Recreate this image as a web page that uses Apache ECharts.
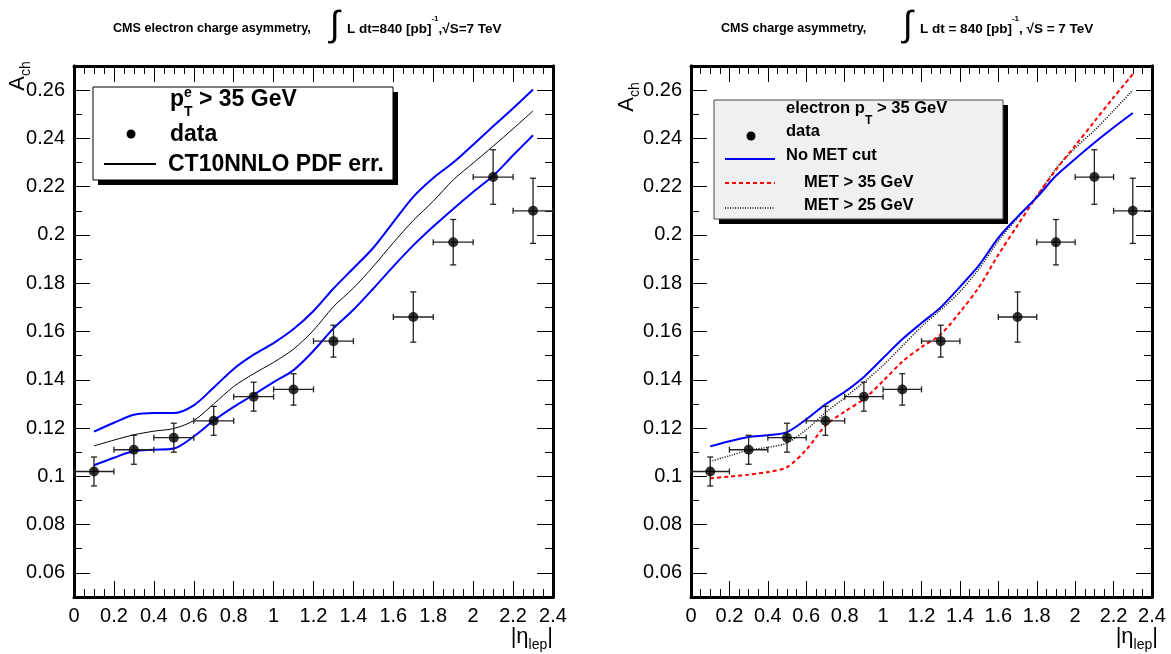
<!DOCTYPE html>
<html>
<head>
<meta charset="utf-8">
<script src="https://cdn.jsdelivr.net/npm/echarts@6/dist/echarts.min.js"></script>
<style>
  html, body { margin: 0; padding: 0; background: #fff; }
  #chart { width: 1171px; height: 654px; }
</style>
</head>
<body>
<div id="chart"></div>
<script>
// ---------------- data ----------------
const dataEta = [0.1, 0.3, 0.5, 0.7, 0.9, 1.1, 1.3, 1.7, 1.9, 2.1, 2.3];
const dataAsym = [0.102, 0.111, 0.116, 0.123, 0.133, 0.136, 0.156, 0.166, 0.197, 0.224, 0.210];
const dataAsymErr = [0.006, 0.006, 0.006, 0.006, 0.006, 0.0065, 0.0066, 0.0104, 0.0094, 0.0113, 0.0135];
const dataEtaErr = [0.1, 0.1, 0.1, 0.1, 0.1, 0.1, 0.1, 0.1, 0.1, 0.1, 0.1];

const etaCurve = [0.1, 0.2, 0.3, 0.4, 0.5, 0.6, 0.7, 0.8, 0.9, 1.0, 1.1, 1.2, 1.3, 1.4, 1.5, 1.6, 1.7, 1.8, 1.9, 2.0, 2.1, 2.2, 2.3];
// left panel: CT10NNLO central and PDF error band edges
const ct10Upper   = [0.1185, 0.1222, 0.1255, 0.1262, 0.1262, 0.1294, 0.1368, 0.1445, 0.1504, 0.1552, 0.1610, 0.1685, 0.1778, 0.1862, 0.1947, 0.2053, 0.2158, 0.2236, 0.2300, 0.2374, 0.2450, 0.2525, 0.2603];
const ct10Central = [0.1126, 0.1150, 0.1172, 0.1187, 0.1198, 0.1231, 0.1300, 0.1372, 0.1425, 0.1472, 0.1527, 0.1605, 0.1703, 0.1780, 0.1870, 0.1968, 0.2060, 0.2140, 0.2228, 0.2298, 0.2368, 0.2440, 0.2514];
const ct10Lower   = [0.1046, 0.1077, 0.1105, 0.1110, 0.1115, 0.1165, 0.1231, 0.1288, 0.1338, 0.1390, 0.1440, 0.1520, 0.1613, 0.1690, 0.1778, 0.1870, 0.1957, 0.2035, 0.2108, 0.2178, 0.2245, 0.2330, 0.2413];
// right panel: MET cut variations
const noMetCut = [0.1124, 0.1145, 0.1163, 0.1170, 0.1183, 0.1236, 0.1298, 0.1350, 0.1412, 0.1490, 0.1568, 0.1635, 0.1700, 0.1785, 0.1875, 0.1988, 0.2075, 0.2155, 0.2245, 0.2315, 0.2382, 0.2445, 0.2505];
const met35    = [0.0992, 0.0999, 0.1007, 0.1018, 0.1038, 0.1110, 0.1210, 0.1268, 0.1320, 0.1395, 0.1475, 0.1535, 0.1588, 0.1680, 0.1785, 0.1918, 0.2040, 0.2160, 0.2270, 0.2370, 0.2470, 0.2570, 0.2666];
const met25    = [0.1062, 0.1085, 0.1108, 0.1120, 0.1138, 0.1193, 0.1264, 0.1326, 0.1390, 0.1460, 0.1540, 0.1620, 0.1690, 0.1765, 0.1860, 0.1975, 0.2070, 0.2160, 0.2275, 0.2360, 0.2433, 0.2515, 0.2600];

const yMajorTicks = [0.06, 0.08, 0.10, 0.12, 0.14, 0.16, 0.18, 0.20, 0.22, 0.24, 0.26];
const yMinorTicks = [0.05, 0.07, 0.09, 0.11, 0.13, 0.15, 0.17, 0.19, 0.21, 0.23, 0.25, 0.27];
const xTickLabels = ['0', '0.2', '0.4', '0.6', '0.8', '1', '1.2', '1.4', '1.6', '1.8', '2', '2.2', '2.4'];

// ---------------- helpers ----------------
const FONT = '"Liberation Sans", Arial, Helvetica, sans-serif';
const pairs = (xs, ys) => xs.map((x, i) => [x, ys[i]]);
const errPoints = dataEta.map((x, i) => [x, dataAsym[i], dataEtaErr[i], dataAsymErr[i]]);

function xAxes(grid) {
  const base = {
    type: 'value', gridIndex: grid, min: 0, max: 2.4, interval: 0.2,
    axisLine: { show: true, onZero: false, lineStyle: { color: '#000', width: 3 } },
    axisTick: { show: true, inside: true, length: 16, lineStyle: { color: '#000', width: 1 } },
    minorTick: { show: true, splitNumber: 4, length: 8, lineStyle: { color: '#000', width: 1 } },
    splitLine: { show: false }, minorSplitLine: { show: false }
  };
  return [
    Object.assign({}, base, {
      position: 'bottom',
      axisLabel: {
        show: true, margin: 9, fontSize: 20, color: '#000', fontFamily: FONT,
        showMinLabel: true, showMaxLabel: true, hideOverlap: false,
        formatter: v => xTickLabels[Math.round(v / 0.2)]
      }
    }),
    Object.assign({}, base, { position: 'top', axisLabel: { show: false } })
  ];
}

function yAxes(grid) {
  const base = {
    type: 'value', gridIndex: grid, min: 0.05, max: 0.27,
    axisLine: { show: true, onZero: false, lineStyle: { color: '#000', width: 3 } },
    splitLine: { show: false }
  };
  const major = (pos, labels) => Object.assign({}, base, {
    position: pos,
    axisTick: { show: true, inside: true, length: 16, customValues: yMajorTicks, lineStyle: { color: '#000', width: 1 } },
    axisLabel: labels ? {
      show: true, margin: 9, fontSize: 20, color: '#000', fontFamily: FONT,
      customValues: yMajorTicks,
      formatter: v => String(parseFloat(v.toFixed(2)))
    } : { show: false }
  });
  const minor = pos => Object.assign({}, base, {
    position: pos,
    axisTick: { show: true, inside: true, length: 8, customValues: yMinorTicks, lineStyle: { color: '#000', width: 1 } },
    axisLabel: { show: false }
  });
  return [major('left', true), minor('left'), major('right', false), minor('right')];
}

function errorBarSeries(xi, yi) {
  return {
    type: 'custom', xAxisIndex: xi, yAxisIndex: yi, z: 5,
    data: errPoints,
    encode: { x: 0, y: 1 },
    renderItem: function (params, api) {
      const x = api.value(0), y = api.value(1), ex = api.value(2), ey = api.value(3);
      const l = api.coord([x - ex, y]), r = api.coord([x + ex, y]);
      const t = api.coord([x, y + ey]), b = api.coord([x, y - ey]);
      const st = { stroke: '#222', lineWidth: 1.3 };
      const cap = 3;
      return {
        type: 'group',
        children: [
          { type: 'line', shape: { x1: l[0], y1: l[1], x2: r[0], y2: r[1] }, style: st },
          { type: 'line', shape: { x1: t[0], y1: t[1], x2: b[0], y2: b[1] }, style: st },
          { type: 'line', shape: { x1: l[0], y1: l[1] - cap, x2: l[0], y2: l[1] + cap }, style: st },
          { type: 'line', shape: { x1: r[0], y1: r[1] - cap, x2: r[0], y2: r[1] + cap }, style: st },
          { type: 'line', shape: { x1: t[0] - cap, y1: t[1], x2: t[0] + cap, y2: t[1] }, style: st },
          { type: 'line', shape: { x1: b[0] - cap, y1: b[1], x2: b[0] + cap, y2: b[1] }, style: st }
        ]
      };
    }
  };
}

function markerSeries(xi, yi) {
  return {
    type: 'scatter', xAxisIndex: xi, yAxisIndex: yi, z: 6,
    data: pairs(dataEta, dataAsym), symbol: 'circle', symbolSize: 10,
    itemStyle: { color: '#000' }
  };
}

function curve(xi, yi, ys, color, width, dash) {
  return {
    type: 'line', xAxisIndex: xi, yAxisIndex: yi, z: 3,
    data: pairs(etaCurve, ys), showSymbol: false, smooth: 0.3,
    lineStyle: { color: color, width: width, type: dash || 'solid' }
  };
}

// ---------------- graphic (titles, legends, axis titles) ----------------
const txt = (x, y, text, size, weight, align) => ({
  type: 'text', x: x, y: y, silent: true,
  style: { text: text, fontSize: size, fontWeight: weight || 'normal', fontFamily: FONT, fill: '#000',
           align: align || 'left', verticalAlign: 'middle' }
});

const titleRich = {
  t: { fontSize: 13.5, fontWeight: 'bold', fontFamily: FONT, lineHeight: 28, fill: '#000' },
  sup: { fontSize: 8, fontWeight: 'bold', fontFamily: FONT, lineHeight: 8, verticalAlign: 'top', fill: '#000' }
};

function richText(x, y, text, rich, align, rotation) {
  return {
    type: 'text', x: x, y: y, silent: true, rotation: rotation || 0,
    style: { text: text, rich: rich, align: align || 'left', verticalAlign: 'middle', fill: '#000', fontFamily: FONT }
  };
}

const achRich = {
  a: { fontSize: 22, fontFamily: FONT, lineHeight: 30, fill: '#000' },
  s: { fontSize: 14, fontFamily: FONT, lineHeight: 14, verticalAlign: 'bottom', fill: '#000' }
};
const etaRich = {
  a: { fontSize: 22, fontFamily: FONT, lineHeight: 30, fill: '#000' },
  s: { fontSize: 14, fontFamily: FONT, lineHeight: 14, verticalAlign: 'bottom', fill: '#000' }
};

const graphics = [
  // titles
  txt(113, 29, 'CMS electron charge asymmetry,', 12.6, 'bold'),
  txt(330, 26, '∫', 36, 'normal'),
  richText(347, 29, '{t|L dt=840 [pb]}{sup|-1}{t|,√S=7 TeV}', titleRich),
  txt(721, 29, 'CMS charge asymmetry,', 12.6, 'bold'),
  txt(903, 26, '∫', 36, 'normal'),
  richText(920, 29, '{t|L dt = 840 [pb]}{sup|-1}{t|, √S = 7 TeV}', titleRich),

  // axis titles
  richText(18, 76, '{a|A}{s|ch}', achRich, 'center', Math.PI / 2),
  richText(627, 97, '{a|A}{s|ch}', achRich, 'center', Math.PI / 2),
  richText(553, 637, '{a||η}{s|lep}{a||}', etaRich, 'right'),
  richText(1158, 637, '{a||η}{s|lep}{a||}', etaRich, 'right'),

  // left legend
  { type: 'rect', shape: { x: 98, y: 92, width: 300, height: 93 }, style: { fill: '#000' }, silent: true },
  { type: 'rect', shape: { x: 93, y: 87, width: 300, height: 93 }, style: { fill: '#fff', stroke: '#000', lineWidth: 1 }, silent: true },
  txt(170, 100, 'p', 23, 'bold'),
  txt(184, 93, 'e', 14, 'bold'),
  txt(184, 112, 'T', 14, 'bold'),
  txt(199, 100, '> 35 GeV', 23, 'bold'),
  { type: 'circle', shape: { cx: 131, cy: 134, r: 4.5 }, style: { fill: '#000' }, silent: true },
  txt(170, 135, 'data', 23, 'bold'),
  { type: 'line', shape: { x1: 104, y1: 164, x2: 156, y2: 164 }, style: { stroke: '#000', lineWidth: 2 }, silent: true },
  txt(168, 165, 'CT10NNLO PDF err.', 23, 'bold'),

  // right legend
  { type: 'rect', shape: { x: 719, y: 105, width: 289, height: 119 }, style: { fill: '#000' }, silent: true },
  { type: 'rect', shape: { x: 714, y: 100, width: 289, height: 119 }, style: { fill: '#f0f0f0', stroke: '#444', lineWidth: 1 }, silent: true },
  txt(786, 108, 'electron p', 16.5, 'bold'),
  txt(865, 121, 'T', 12, 'bold'),
  txt(877, 108, '> 35 GeV', 16.5, 'bold'),
  { type: 'circle', shape: { cx: 751, cy: 136, r: 4.5 }, style: { fill: '#000' }, silent: true },
  txt(786, 131, 'data', 16.5, 'bold'),
  { type: 'line', shape: { x1: 725, y1: 159, x2: 775, y2: 159 }, style: { stroke: '#0000ff', lineWidth: 2 }, silent: true },
  txt(786, 155, 'No MET cut', 16.5, 'bold'),
  { type: 'line', shape: { x1: 725, y1: 183, x2: 775, y2: 183 }, style: { stroke: '#ff0000', lineWidth: 2, lineDash: [4, 3] }, silent: true },
  txt(804, 182, 'MET > 35 GeV', 16.5, 'bold'),
  { type: 'line', shape: { x1: 725, y1: 208, x2: 775, y2: 208 }, style: { stroke: '#000', lineWidth: 1.5, lineDash: [1, 1.5] }, silent: true },
  txt(804, 205, 'MET > 25 GeV', 16.5, 'bold')
];

// ---------------- option ----------------
const option = {
  animation: false,
  backgroundColor: '#fff',
  textStyle: { fontFamily: FONT },
  grid: [
    { left: 74, top: 66, width: 479, height: 531, containLabel: false },
    { left: 691, top: 66, width: 461, height: 531, containLabel: false }
  ],
  xAxis: [].concat(xAxes(0), xAxes(1)),
  yAxis: [].concat(yAxes(0), yAxes(1)),
  series: [
    curve(0, 0, ct10Upper, '#0000ff', 2),
    curve(0, 0, ct10Lower, '#0000ff', 2),
    curve(0, 0, ct10Central, '#000', 1),
    errorBarSeries(0, 0),
    markerSeries(0, 0),

    curve(2, 4, met25, '#000', 1.5, [1, 1.5]),
    curve(2, 4, met35, '#ff0000', 2, [4, 3]),
    curve(2, 4, noMetCut, '#0000ff', 2),
    errorBarSeries(2, 4),
    markerSeries(2, 4)
  ],
  graphic: { elements: graphics }
};

const chart = echarts.init(document.getElementById('chart'), null, { renderer: 'canvas' });
chart.setOption(option);
</script>
</body>
</html>
